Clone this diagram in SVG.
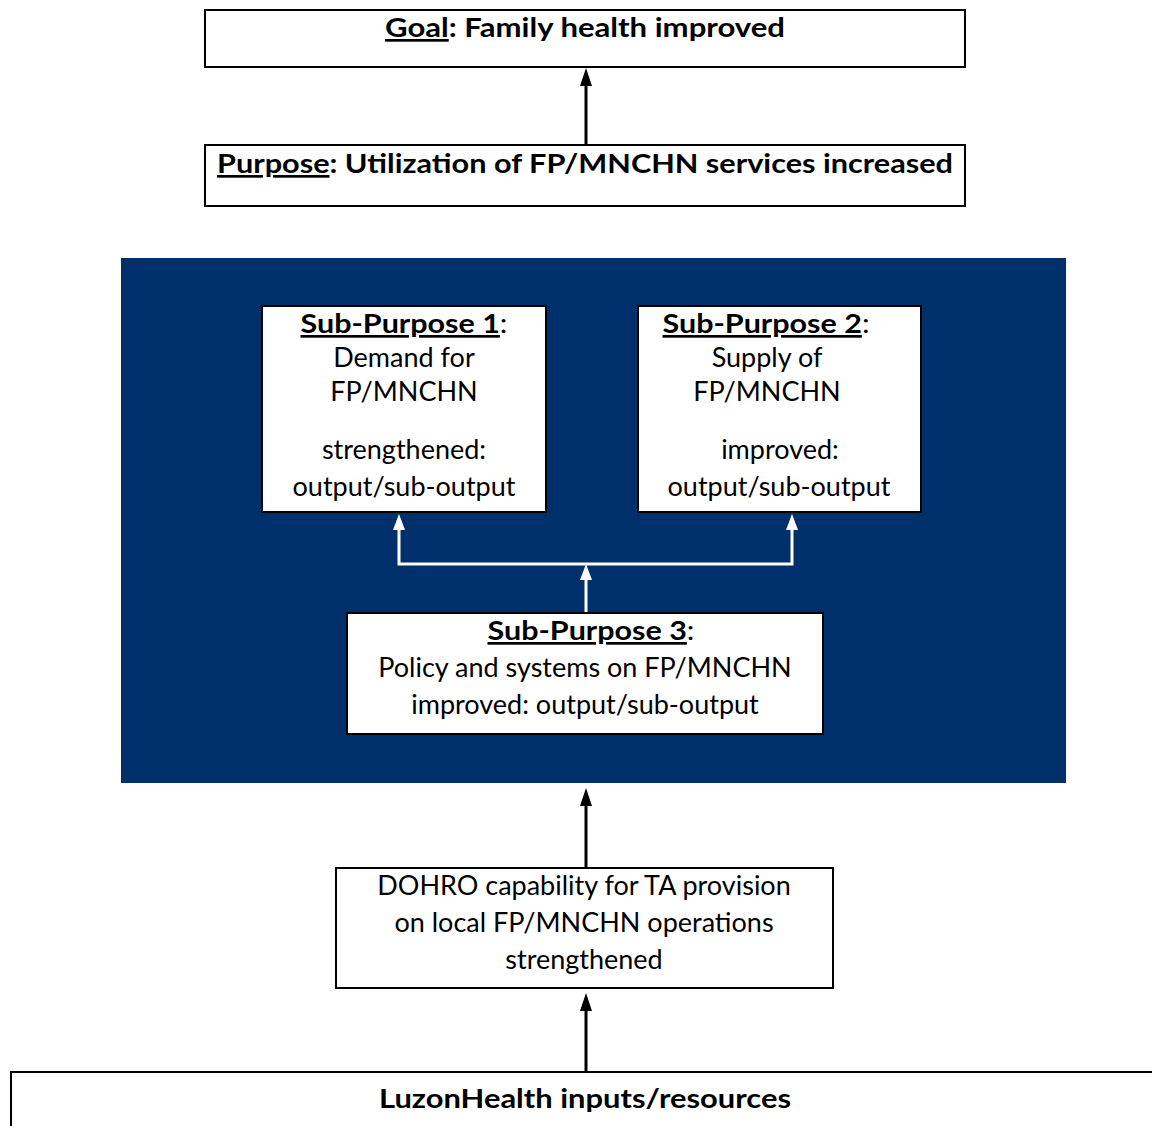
<svg xmlns="http://www.w3.org/2000/svg" width="1152" height="1126" viewBox="0 0 1152 1126">
<style>
.box{fill:#fff;stroke:#000;stroke-width:2}
.t{font-family:Lato,"Open Sans","Liberation Sans",sans-serif;font-size:27px;fill:#000;text-anchor:middle}
.b{font-weight:bold}
.u{text-decoration:underline}
.blk{stroke:#000;stroke-width:3;fill:none}
.wht{stroke:#fff;stroke-width:3;fill:none}
</style>
<rect width="1152" height="1126" fill="#fff"/>
<rect id="panel" x="121" y="258" width="945" height="525" fill="#00306B"/>

<g id="connectors">
<path class="blk" d="M586,145 V84" />
<path d="M580,86 L586,68 L592,86 Z" fill="#000"/>
<path class="blk" d="M586,872 V805" />
<path d="M580,806 L586,788 L592,806 Z" fill="#000"/>
<path class="blk" d="M586,1072 V1010" />
<path d="M580,1011 L586,993 L592,1011 Z" fill="#000"/>
<path class="wht" d="M586,612 V578" />
<path d="M580,580 L586,564 L592,580 Z" fill="#fff"/>
<path class="wht" d="M399,529 V564 H792 V529" />
<path d="M393,530 L399,514 L405,530 Z" fill="#fff"/>
<path d="M786,530 L792,514 L798,530 Z" fill="#fff"/>
</g>

<g id="goal">
<rect class="box" x="205" y="10" width="760" height="57"/>
<text class="t b" x="585" y="37" textLength="400" lengthAdjust="spacingAndGlyphs"><tspan class="u">Goal</tspan>: Family health improved</text>
</g>

<g id="purpose">
<rect class="box" x="205" y="145" width="760" height="61"/>
<text class="t b" x="585" y="173" textLength="736" lengthAdjust="spacingAndGlyphs"><tspan class="u">Purpose</tspan>: Utilization of FP/MNCHN services increased</text>
</g>

<g id="sp1">
<rect class="box" x="262" y="306" width="284" height="206"/>
<text class="t" x="404" y="333" textLength="207" lengthAdjust="spacingAndGlyphs"><tspan class="b u">Sub-Purpose 1</tspan>:</text>
<text class="t" x="404" y="367">Demand for</text>
<text class="t" x="404" y="401">FP/MNCHN</text>
<text class="t" x="404" y="459">strengthened:</text>
<text class="t" x="404" y="496">output/sub-output</text>
</g>

<g id="sp2">
<rect class="box" x="638" y="306" width="283" height="206"/>
<text class="t" x="766" y="333" textLength="207" lengthAdjust="spacingAndGlyphs"><tspan class="b u">Sub-Purpose 2</tspan>:</text>
<text class="t" x="767" y="367">Supply of</text>
<text class="t" x="767" y="401">FP/MNCHN</text>
<text class="t" x="780" y="459">improved:</text>
<text class="t" x="779" y="496">output/sub-output</text>
</g>

<g id="sp3">
<rect class="box" x="347" y="613" width="476" height="121"/>
<text class="t" x="591" y="640" textLength="207" lengthAdjust="spacingAndGlyphs"><tspan class="b u">Sub-Purpose 3</tspan>:</text>
<text class="t" x="585" y="677">Policy and systems on FP/MNCHN</text>
<text class="t" x="585" y="714">improved: output/sub-output</text>
</g>

<g id="dohro">
<rect class="box" x="336" y="868" width="497" height="120"/>
<text class="t" x="584" y="895">DOHRO capability for TA provision</text>
<text class="t" x="584" y="932">on local FP/MNCHN operations</text>
<text class="t" x="584" y="969">strengthened</text>
</g>

<g id="inputs">
<rect class="box" x="11" y="1072" width="1150" height="70"/>
<text class="t b" x="585" y="1108" textLength="412" lengthAdjust="spacingAndGlyphs">LuzonHealth inputs/resources</text>
</g>
</svg>
